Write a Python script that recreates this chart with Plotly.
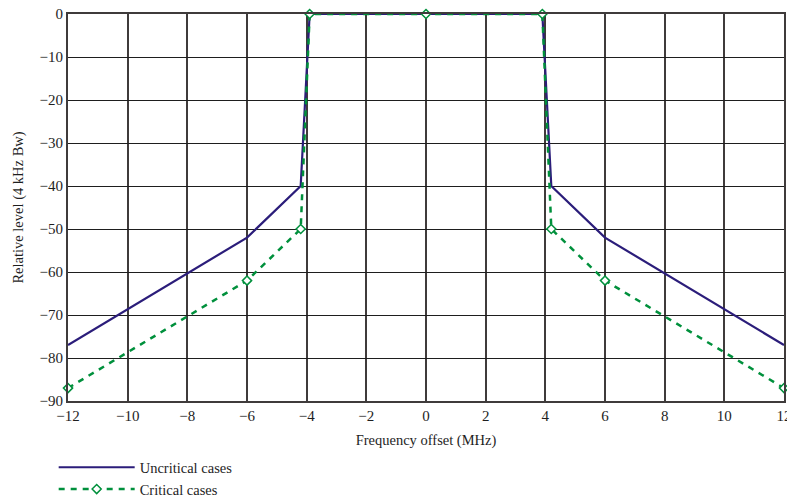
import plotly.graph_objects as go

# Frequency offsets (MHz) and relative levels (dB, 4 kHz Bw)
uncritical_x = [-12, -6, -4.2, -3.9, 3.9, 4.2, 6, 12]
uncritical_y = [-77, -52, -40, 0, 0, -40, -52, -77]

critical_x = [-12, -6, -4.2, -3.9, 0, 3.9, 4.2, 6, 12]
critical_y = [-87, -62, -50, 0, 0, 0, -50, -62, -87]

x_ticks = list(range(-12, 13, 2))
y_ticks = list(range(-90, 1, 10))

font_family = "Liberation Serif, Times New Roman, serif"
ink = "#1e1e1e"

fig = go.Figure()
fig.add_trace(go.Scatter(
    x=uncritical_x, y=uncritical_y, mode="lines", name="Uncritical cases",
    line=dict(color="#2b1d7a", width=2.2), cliponaxis=False,
))
fig.add_trace(go.Scatter(
    x=critical_x, y=critical_y, mode="lines+markers", name="Critical cases",
    line=dict(color="#00903c", width=2.5, dash="6px,6px"),
    marker=dict(symbol="diamond", size=7, color="white",
                line=dict(color="#00903c", width=1.5)),
    cliponaxis=False,
))

fig.update_layout(
    width=787, height=499,
    margin=dict(l=68, r=3, t=14, b=98, autoexpand=False),
    paper_bgcolor="white", plot_bgcolor="white",
    font=dict(family=font_family, size=14, color=ink),
    showlegend=True,
    legend=dict(
        x=-0.02, y=-0.13, xanchor="left", yanchor="top",
        orientation="v", itemwidth=76, tracegroupgap=9,
        font=dict(family=font_family, size=14.5, color=ink),
        bgcolor="rgba(0,0,0,0)",
    ),
    xaxis=dict(
        range=[-12, 12], tickvals=x_ticks, showgrid=True, gridcolor="#3f3b3b",
        gridwidth=2, zeroline=False, showline=True, linecolor="#3f3b3b",
        linewidth=2, mirror=True, ticks="", ticklabeloverflow="allow",
        tickfont=dict(family=font_family, size=15, color=ink),
        automargin=False,
        title=dict(text="Frequency offset (MHz)", standoff=12,
                   font=dict(family=font_family, size=14.5, color=ink)),
    ),
    yaxis=dict(
        range=[-90, 0], tickvals=y_ticks, showgrid=True, gridcolor=ink,
        gridwidth=1.3, zeroline=False, showline=True, linecolor="#3f3b3b",
        linewidth=2, mirror=True, ticks="", ticklabeloverflow="allow",
        tickfont=dict(family=font_family, size=15, color=ink),
        automargin=False,
        title=dict(text="Relative level (4 kHz Bw)", standoff=12,
                   font=dict(family=font_family, size=14.5, color=ink)),
    ),
)

fig.write_html("out.html")
